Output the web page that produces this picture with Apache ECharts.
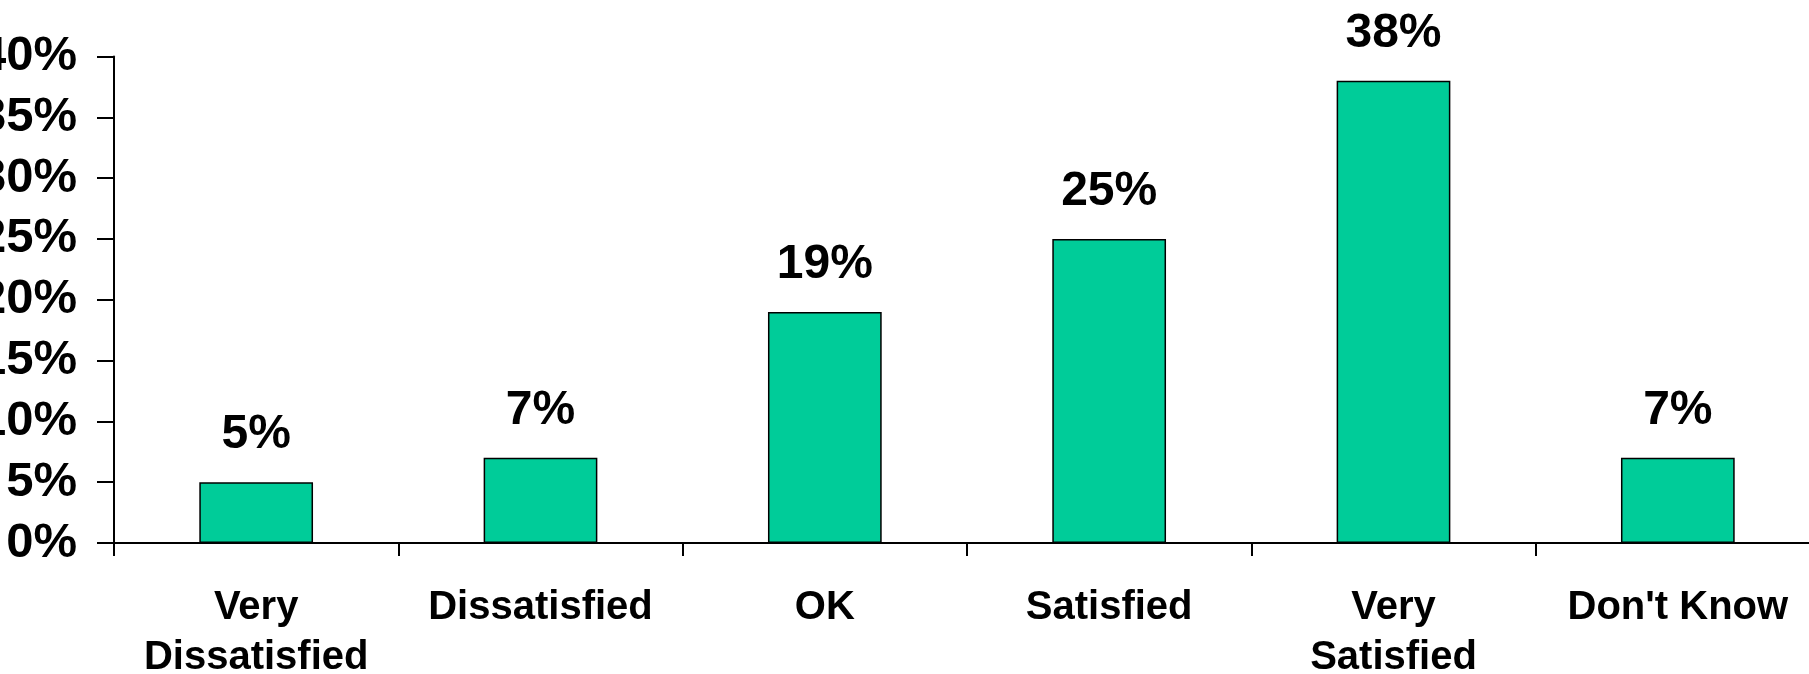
<!DOCTYPE html>
<html>
<head>
<meta charset="utf-8">
<style>
html,body{margin:0;padding:0;background:#fff;}
#chart{width:1809px;height:674px;}
</style>
<script src="https://cdn.jsdelivr.net/npm/echarts@6/dist/echarts.min.js"></script>
</head>
<body>
<div id="chart"></div>
<script>
const categories = ['Very\nDissatisfied', 'Dissatisfied', 'OK', 'Satisfied', 'Very\nSatisfied', "Don't Know"];
const values = [5, 7, 19, 25, 38, 7];
const yTicks = { min: 0, max: 40, interval: 5 };

const chart = echarts.init(document.getElementById('chart'), null, { renderer: 'canvas' });
const font = "'Liberation Sans', Arial, sans-serif";
chart.setOption({
  animation: false,
  backgroundColor: '#ffffff',
  grid: { left: 114, top: 56.5, width: 1706, height: 486.5, containLabel: false, outerBoundsMode: 'none' },
  xAxis: {
    type: 'category',
    data: categories,
    boundaryGap: true,
    axisLine: { lineStyle: { color: '#000', width: 2 } },
    axisTick: { show: true, length: 13, lineStyle: { color: '#000', width: 2 } },
    axisLabel: {
      interval: 0,
      margin: 40,
      color: '#000',
      fontFamily: font,
      fontWeight: 'bold',
      fontSize: 40,
      lineHeight: 50
    },
    splitLine: { show: false }
  },
  yAxis: {
    type: 'value',
    min: yTicks.min,
    max: yTicks.max,
    interval: yTicks.interval,
    axisLine: { show: true, lineStyle: { color: '#000', width: 2 } },
    axisTick: { show: true, length: 17, lineStyle: { color: '#000', width: 2 } },
    axisLabel: {
      formatter: '{value}%',
      margin: 37,
      color: '#000',
      fontFamily: font,
      fontWeight: 'bold',
      fontSize: 49
    },
    splitLine: { show: false }
  },
  series: [{
    type: 'bar',
    data: values,
    barWidth: '40%',
    itemStyle: { color: '#00CC99', borderColor: '#000', borderWidth: 1.5 },
    label: {
      show: true,
      position: 'top',
      distance: 23,
      formatter: '{c}%',
      color: '#000',
      fontFamily: font,
      fontWeight: 'bold',
      fontSize: 48
    }
  }]
});
</script>
</body>
</html>
